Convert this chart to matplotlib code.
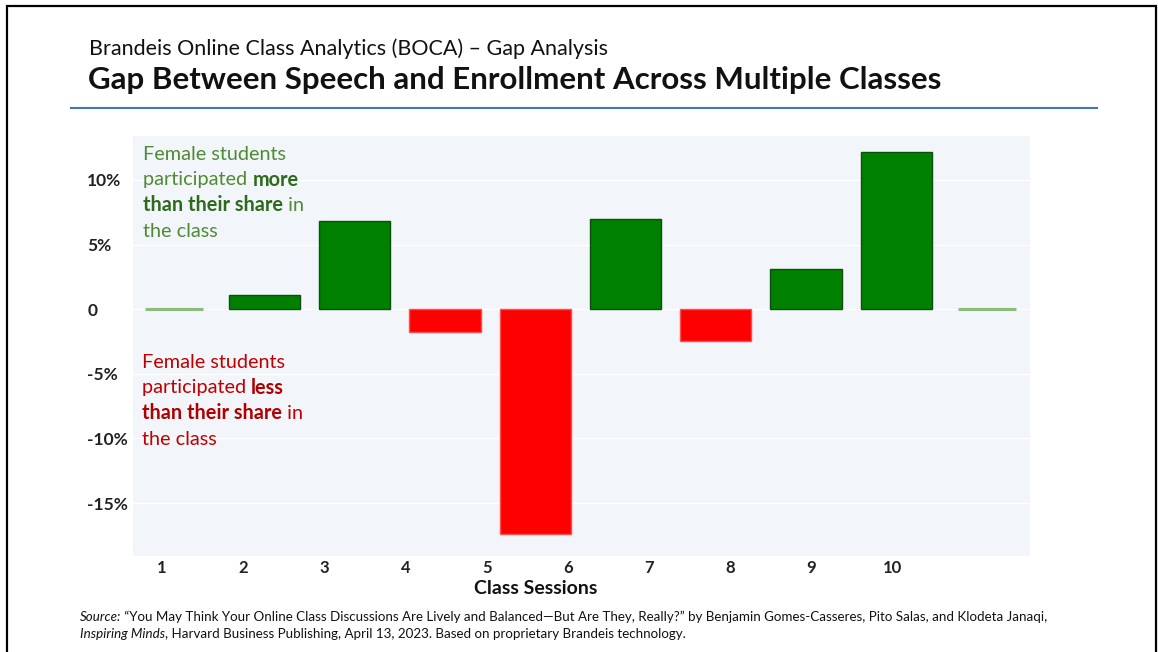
import matplotlib.pyplot as plt
import matplotlib.patches as patches
from matplotlib.lines import Line2D
import numpy as np

# ---------- data ----------
sessions = ['1', '2', '3', '4', '5', '6', '7', '8', '9', '10']
gap_pct = [0.0, 1.1, 6.8, -1.8, -17.4, 7.0, -2.5, 3.1, 12.2, 0.0]
y_ticks = [10, 5, 0, -5, -10, -15]
y_tick_labels = ['10%', '5%', '0', '-5%', '-10%', '-15%']

title = 'Gap Between Speech and Enrollment Across Multiple Classes'
subtitle = 'Brandeis Online Class Analytics (BOCA) \u2013 Gap Analysis'

FONT = 'Lato'
W, H = 1158, 652

fig = plt.figure(figsize=(W / 100, H / 100), dpi=100)
fig.patch.set_facecolor('white')


def fx(px):
    return px / W


def fy(py):
    return 1 - py / H


ax = fig.add_axes([fx(133), fy(556), fx(1030) - fx(133), fy(136) - fy(556)])
ax.set_facecolor('#F2F5FA')

# bars: green above zero, red below, pale line for zero
x = np.arange(len(gap_pct))
colors = ['#8DBC7C' if v == 0 else ('#008000' if v > 0 else '#FF0000') for v in gap_pct]
edges = ['#8DBC7C' if v == 0 else ('#0B4F0B' if v > 0 else '#FF5050') for v in gap_pct]
widths = [0.64 if v == 0 else 0.79 for v in gap_pct]
lws = [2.2 if v == 0 else 1.0 for v in gap_pct]
ax.bar(x, gap_pct, width=widths, color=colors, edgecolor=edges, linewidth=lws, zorder=3)

ax.set_xlim(-0.454, 9.48)
ax.set_ylim(-19.1, 13.4)

# session labels sit on their own spacing, as in the slide
ax.set_xticks(np.arange(len(sessions)) * 0.899 - 0.133)
ax.set_xticklabels(sessions, fontfamily=FONT, fontsize=12, fontweight='bold', color='#222222')
ax.set_yticks(y_ticks)
ax.set_yticklabels(y_tick_labels, fontfamily=FONT, fontsize=12.5, fontweight='bold', color='#222222')
for lab in ax.get_yticklabels():
    lab.set_horizontalalignment('left')
ax.tick_params(axis='y', length=0, pad=33)
ax.tick_params(axis='x', length=0, pad=3)
ax.grid(axis='y', color='white', linewidth=1.0)
ax.set_axisbelow(True)
for s in ax.spines.values():
    s.set_visible(False)

# ---------- titles ----------
fig.text(fx(89), fy(49), subtitle, fontfamily=FONT, fontsize=15.5, color='#111111', va='center')
fig.text(fx(88), fy(80), title, fontfamily=FONT, fontsize=22.5, fontweight='bold', color='#111111', va='center')
fig.add_artist(Line2D([fx(71), fx(1097)], [fy(108), fy(108)], color='#4472C4', lw=1.5))

# frame round the slide
fig.add_artist(patches.Rectangle((fx(7), -0.02), fx(1156) - fx(7), fy(6) + 0.02,
                                 transform=fig.transFigure, fill=False, edgecolor='black', lw=1.6))

fig.text(fx(536), fy(589), 'Class Sessions', fontfamily=FONT, fontsize=14, fontweight='bold',
         color='#111111', ha='center', va='center')

renderer = fig.canvas.get_renderer()


def rich_line(x0, y0, parts, size):
    # parts: (text, weight, style, color)
    xx = x0
    for s, weight, style, color in parts:
        t = fig.text(xx, y0, s, fontfamily=FONT, fontsize=size, fontweight=weight,
                     fontstyle=style, color=color, va='center')
        xx += t.get_window_extent(renderer).width / W


g1, g2 = '#4F8A34', '#2E6A1C'
r1, r2 = '#C00000', '#B00000'
green_lines = [
    [('Female students', 'normal', 'normal', g1)],
    [('participated ', 'normal', 'normal', g1), ('more', 'bold', 'normal', g2)],
    [('than their share', 'bold', 'normal', g2), (' in', 'normal', 'normal', g1)],
    [('the class', 'normal', 'normal', g1)],
]
red_lines = [
    [('Female students', 'normal', 'normal', r1)],
    [('participated ', 'normal', 'normal', r1), ('less', 'bold', 'normal', r2)],
    [('than their share', 'bold', 'normal', r2), (' in', 'normal', 'normal', r1)],
    [('the class', 'normal', 'normal', r1)],
]
for i, parts in enumerate(green_lines):
    rich_line(fx(143), fy(154 + 25.7 * i), parts, 14.3)
for i, parts in enumerate(red_lines):
    rich_line(fx(142), fy(362 + 25.7 * i), parts, 14.3)

# ---------- source ----------
src1 = [('Source:', 'normal', 'italic', '#111111'),
        (' \u201cYou May Think Your Online Class Discussions Are Lively and Balanced\u2014But Are They, Really?\u201d '
         'by Benjamin Gomes-Casseres, Pito Salas, and Klodeta Janaqi,', 'normal', 'normal', '#111111')]
src2 = [('Inspiring Minds', 'normal', 'italic', '#111111'),
        (', Harvard Business Publishing, April 13, 2023. Based on proprietary Brandeis technology.',
         'normal', 'normal', '#111111')]
rich_line(fx(80), fy(617), src1, 9.6)
rich_line(fx(80), fy(634), src2, 9.6)

fig.savefig('out.png', dpi=100)
